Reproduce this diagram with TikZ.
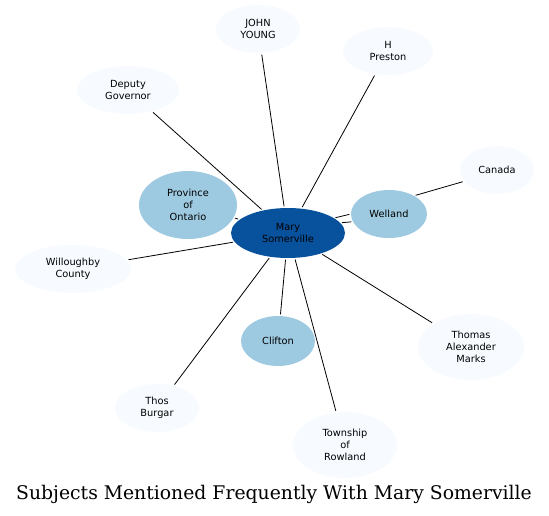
\documentclass[tikz,border=0pt]{standalone}
\usepackage{fontspec}
\newfontfamily\nodefont{DejaVu Sans}
\newfontfamily\titlefont{DejaVu Serif}
\usetikzlibrary{shapes.geometric}
\definecolor{darkb}{HTML}{08519C}
\definecolor{midb}{HTML}{9ECAE1}
\definecolor{lightb}{HTML}{F7FBFF}
\tikzset{
  ent/.style={ellipse, inner sep=0pt, minimum width=#1, font=\nodefont\fontsize{9.8}{12}\selectfont, align=center, text=black},
  center/.style={ent=114pt, minimum height=50pt, fill=darkb},
  mid/.style={fill=midb},
  light/.style={fill=lightb},
  link/.style={draw=black, line width=0.8pt, shorten <=1.5pt, shorten >=1.5pt}
}
\begin{document}
\begin{tikzpicture}[x=1pt,y=-1pt]
\useasboundingbox (0,0) rectangle (549,515);
\node[center] (mary) at (288,233) {Mary\\Somerville};
\node[ent=76pt, minimum height=48pt, mid] (welland) at (389,214) {Welland};
\node[ent=98pt, minimum height=68pt, mid] (ontario) at (188,205) {Province\\of\\Ontario};
\node[ent=74pt, minimum height=50pt, mid] (clifton) at (278,341) {Clifton};
\node[ent=84pt, minimum height=48pt, light] (young) at (258,29) {JOHN\\YOUNG};
\node[ent=90pt, minimum height=48pt, light] (preston) at (388,51) {H\\Preston};
\node[ent=102pt, minimum height=48pt, light] (deputy) at (128,90) {Deputy\\Governor};
\node[ent=74pt, minimum height=48pt, light] (canada) at (497,170) {Canada};
\node[ent=116pt, minimum height=48pt, light] (willoughby) at (73,269) {Willoughby\\County};
\node[ent=106pt, minimum height=66pt, light] (marks) at (471,347) {Thomas\\Alexander\\Marks};
\node[ent=84pt, minimum height=48pt, light] (burgar) at (157,408) {Thos\\Burgar};
\node[ent=104pt, minimum height=66pt, light] (rowland) at (345,445) {Township\\of\\Rowland};
\node[inner sep=0pt] (title) at (274,494) {\titlefont\fontsize{18.8}{22}\selectfont Subjects Mentioned Frequently With Mary Somerville};
\foreach \n in {young,preston,deputy,willoughby,burgar,rowland,marks,clifton,ontario}
  \draw[link] (mary) -- (\n);
\draw[link] (welland.36) -- (canada.199);
\draw[link] (mary.18) -- (welland.180);
\draw[link] (mary.11) -- (welland.192);
\end{tikzpicture}
\end{document}
